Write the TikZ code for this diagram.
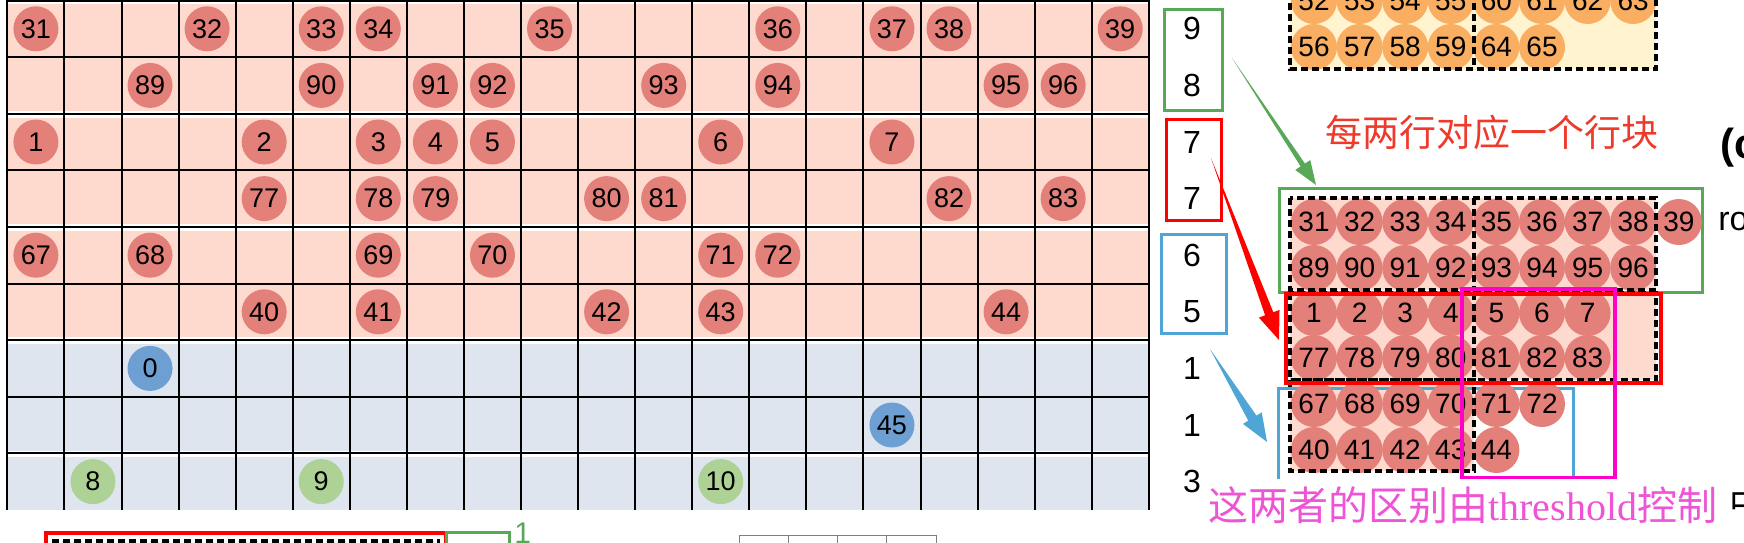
\documentclass[tikz,border=0pt]{standalone}
\usepackage{fontspec}
\setmainfont{Liberation Sans}
\newfontfamily\cjk{Noto Sans CJK SC}
\newfontfamily\serifw{Liberation Serif}
\usetikzlibrary{calc}
\definecolor{pinkbg}{HTML}{FDD9CE}
\definecolor{bluebg}{HTML}{DEE5EF}
\definecolor{redc}{HTML}{E3807A}
\definecolor{bluec}{HTML}{6E9FD2}
\definecolor{greenc}{HTML}{AED296}
\definecolor{orangec}{HTML}{F9AE61}
\definecolor{yellowbg}{HTML}{FFF3D0}
\definecolor{gbox}{HTML}{58A858}
\definecolor{bbox}{HTML}{4EA5D6}
\definecolor{mbox}{HTML}{FF00C8}
\definecolor{mtext}{HTML}{EE55D5}
\definecolor{rtext}{HTML}{EE3A2A}
\newcommand\wedgearrow[6]{%
  \coordinate (wb) at ($(#3)!#4!(#2)$);
  \fill[#1] (#2) -- ($(wb)!#6!90:(#3)$) -- ($(wb)!#5!90:(#3)$) -- (#3)
     -- ($(wb)!#5!-90:(#3)$) -- ($(wb)!#6!-90:(#3)$) -- cycle;}
\begin{document}
\begin{tikzpicture}[x=0.5pt,y=-0.5pt,
  gdot/.style={circle,inner sep=0pt,minimum size=22.5pt,font=\fontsize{13.5}{16}\selectfont},
  rdot/.style={circle,inner sep=0pt,minimum size=23pt,font=\fontsize{14}{16}\selectfont},
  colnum/.style={font=\fontsize{16}{18}\selectfont,inner sep=0pt},
  gridline/.style={line width=1pt,black},
  dashbox/.style={line width=1.6pt,black,dash pattern=on 3.5pt off 2pt},
  numbox/.style={line width=1.5pt}]
\useasboundingbox (0,0) rectangle (1744,542);
\begin{scope}
\clip (0,0) rectangle (1744,542);
% ---------- grid ----------
\fill[pinkbg] (7.4,0.5) rectangle (1148.8,340.1);
\fill[bluebg] (7.4,340.1) rectangle (1148.8,510);
\foreach \y in {0.5,113.7,226.9,340.1,453.3}
  \fill[white] (7.4,{\y-2.7}) rectangle (1148.8,{\y+3.8});
\foreach \k in {0,...,20}
  \draw[gridline] ({7.4+57.07*\k},0) -- ({7.4+57.07*\k},510);
\foreach \k in {0,...,8}
  \draw[gridline] (7.4,{0.5+56.6*\k}) -- (1148.8,{0.5+56.6*\k});
\foreach \r/\c/\n in {0/0/31,0/3/32,0/5/33,0/6/34,0/9/35,0/13/36,0/15/37,0/16/38,0/19/39,
  1/2/89,1/5/90,1/7/91,1/8/92,1/11/93,1/13/94,1/17/95,1/18/96,
  2/0/1,2/4/2,2/6/3,2/7/4,2/8/5,2/12/6,2/15/7,
  3/4/77,3/6/78,3/7/79,3/10/80,3/11/81,3/16/82,3/18/83,
  4/0/67,4/2/68,4/6/69,4/8/70,4/12/71,4/13/72,
  5/4/40,5/6/41,5/10/42,5/12/43,5/17/44}
  \node[gdot,fill=redc] (g\n) at ({35.9+57.07*\c},{28.8+56.6*\r}) {\n};
\foreach \r/\c/\n in {6/2/0,7/15/45}
  \node[gdot,fill=bluec] (g\n) at ({35.9+57.07*\c},{28.8+56.6*\r}) {\n};
\foreach \r/\c/\n in {8/1/8,8/5/9,8/12/10}
  \node[gdot,fill=greenc] (g\n) at ({35.9+57.07*\c},{28.8+56.6*\r}) {\n};
% ---------- row counts ----------
\foreach \v [count=\i from 0] in {9,8,7,7,6,5,1,1,3}
  \node[colnum] (c\i) at (1192,{28.8+56.6*\i}) {\v};
\draw[numbox,gbox] (1164,9) rectangle (1222,110);
\draw[numbox,red] (1166,119) rectangle (1221,220);
\draw[numbox,bbox] (1161,234) rectangle (1226,333);
% ---------- right blocks backgrounds ----------
\fill[yellowbg] (1290,-30) rectangle (1656,69);
\fill[pinkbg] (1290,198) rectangle (1656,290);
\fill[pinkbg] (1290,292) rectangle (1656,380);
\fill[pinkbg] (1290,380) rectangle (1474,471);
\draw[line width=1.5pt,gbox] (1279,188) rectangle (1702,292);
\draw[line width=1.5pt,bbox] (1278,388) rectangle (1573,520);
% orange
\foreach \n [count=\c from 0] in {52,53,54,55,60,61,62,63}
  \node[rdot,fill=orangec] (o\n) at ({1314+45.6*\c},1) {\n};
\foreach \n [count=\c from 0] in {56,57,58,59,64,65}
  \node[rdot,fill=orangec] (o\n) at ({1314+45.6*\c},47) {\n};
% block A
\foreach \n [count=\c from 0] in {31,32,33,34,35,36,37,38,39}
  \node[rdot,fill=redc] (r\n) at ({1314+45.6*\c},222) {\n};
\foreach \n [count=\c from 0] in {89,90,91,92,93,94,95,96}
  \node[rdot,fill=redc] (r\n) at ({1314+45.6*\c},268) {\n};
% block B
\foreach \n [count=\c from 0] in {1,2,3,4,5,6,7}
  \node[rdot,fill=redc] (r\n) at ({1314+45.6*\c},313) {\n};
\foreach \n [count=\c from 0] in {77,78,79,80,81,82,83}
  \node[rdot,fill=redc] (r\n) at ({1314+45.6*\c},358) {\n};
% block C
\foreach \n [count=\c from 0] in {67,68,69,70,71,72}
  \node[rdot,fill=redc] (r\n) at ({1314+45.6*\c},404) {\n};
\foreach \n [count=\c from 0] in {40,41,42,43,44}
  \node[rdot,fill=redc] (r\n) at ({1314+45.6*\c},450) {\n};
% dashed boxes
\draw[dashbox] (1290,-30) rectangle (1656,69);
\draw[dashbox] (1474,-30) -- (1474,69);
\draw[dashbox] (1290,198) rectangle (1656,290);
\draw[dashbox] (1474,198) -- (1474,290);
\draw[dashbox] (1290,293) rectangle (1656,380);
\draw[dashbox] (1474,293) -- (1474,380);
\draw[dashbox] (1290,380) rectangle (1474,471);
% red and magenta boxes
\draw[line width=2pt,red] (1286,294) rectangle (1661,383);
\draw[line width=2pt,mbox] (1462,289) rectangle (1615,478);
% arrows
\coordinate (gT) at (1232,58);  \coordinate (gP) at (1316,185);
\coordinate (rT) at (1211,158); \coordinate (rP) at (1279,340);
\coordinate (bT) at (1210,349); \coordinate (bP) at (1267,442);
\wedgearrow{gbox}{gT}{gP}{12pt}{4.5pt}{1.3pt}
\wedgearrow{red}{rT}{rP}{14pt}{5.5pt}{2.2pt}
\wedgearrow{bbox}{bT}{bP}{14pt}{5.5pt}{2.4pt}
% texts
\node[font=\cjk\fontsize{18.5}{20}\selectfont,text=rtext,inner sep=0pt] (t1) at (1492,132) {每两行对应一个行块};
\node[font=\bfseries\fontsize{21}{24}\selectfont,anchor=west,inner sep=0pt] (lc) at (1720,148) {(c)};
\node[font=\fontsize{17}{20}\selectfont,anchor=west,inner sep=0pt] (lr) at (1718,222) {row};
\fill[white] (1203,479) rectangle (1744,542);
\node[font=\cjk\fontsize{18}{20}\selectfont,anchor=west,inner sep=0pt] (zh) at (1729,503) {中};
\node[font=\cjk\fontsize{20}{22}\selectfont,text=mtext,anchor=west,inner sep=0pt] (t2) at (1208,505) {这两者的区别由{\serifw threshold}控制};
% ---------- bottom strip ----------
\draw[line width=2pt,red] (46,600) -- (46,533) -- (446,533) -- (446,600);
\draw[dashbox] (52,541) -- (440,541);
\draw[line width=1.5pt,gbox] (446,532) rectangle (509,600);
\node[font=\fontsize{15}{18}\selectfont,text=gbox,anchor=base west,inner sep=0pt] (one) at (514,543) {1};
\draw[line width=0.5pt,gray] (739,560) -- (739,535) -- (936,535) -- (936,560);
\foreach \x in {788,837,886} \draw[line width=0.5pt,gray] (\x,535) -- (\x,560);
\end{scope}
\end{tikzpicture}
\end{document}
